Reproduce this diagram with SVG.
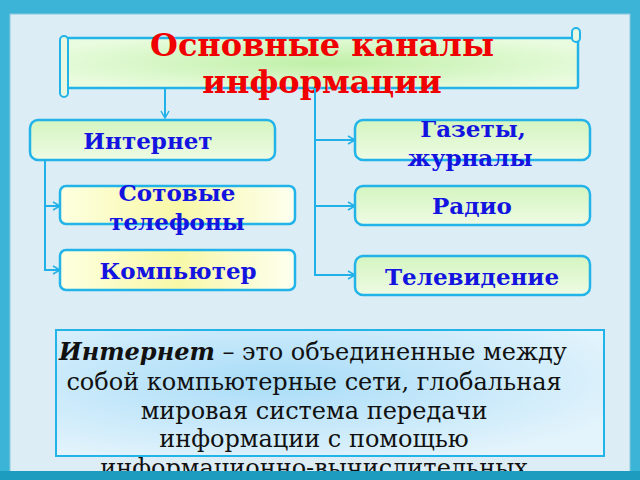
<svg xmlns="http://www.w3.org/2000/svg" width="640" height="480" viewBox="0 0 640 480">
<defs>
<linearGradient id="g" x1="0" y1="0" x2="0" y2="1"><stop offset="0" stop-color="#d4f5c0"/><stop offset="1" stop-color="#eefbe4"/></linearGradient>
<linearGradient id="y" x1="0" y1="0" x2="1" y2="0"><stop offset="0" stop-color="#fdffe0"/><stop offset="0.5" stop-color="#f8f8a8"/><stop offset="1" stop-color="#fdfff0"/></linearGradient>
<radialGradient id="t" cx="0.5" cy="0.5" r="0.6"><stop offset="0" stop-color="#c0f0a8"/><stop offset="1" stop-color="#eafce0"/></radialGradient>
<radialGradient id="b" cx="0.4" cy="0.4" r="0.7"><stop offset="0" stop-color="#a8dcf8"/><stop offset="1" stop-color="#e4f4fc"/></radialGradient>
<marker id="a" markerWidth="10" markerHeight="10" refX="8" refY="5" orient="auto" markerUnits="userSpaceOnUse"><path d="M1,1 L8,5 L1,9" fill="none" stroke="#22b0e8" stroke-width="1.5"/></marker>
</defs>
<style>
.box{stroke:#22b4e8;stroke-width:2.5}
.lbl{font-family:"DejaVu Serif",serif;font-weight:bold;font-size:23px;fill:#1414e0;text-anchor:middle}
.ln{fill:none;stroke:#22b0e8;stroke-width:2}
.body{font-family:"DejaVu Serif",serif;font-size:24px;fill:#111;text-anchor:middle}
</style>
<rect width="640" height="480" fill="#3cb4d8"/>
<rect x="10" y="14" width="620" height="460" fill="#dcedf6" stroke="#8cc8dc" stroke-width="1"/>
<g id="title">
<rect x="66" y="38" width="512" height="50" fill="url(#t)" class="box" stroke-width="2" rx="2"/>
<rect x="60" y="36" width="8" height="61" rx="4" fill="#e8f8e0" stroke="#22b4e8" stroke-width="2"/>
<rect x="572" y="28" width="8" height="14" rx="4" fill="#e8f8e0" stroke="#22b4e8" stroke-width="2"/>
<text font-family="DejaVu Serif,serif" font-weight="bold" font-size="32" fill="#f00000" text-anchor="middle"><tspan x="322" y="56">Основные каналы</tspan><tspan x="322" y="93">информации</tspan></text>
</g>
<g id="connectors">
<path class="ln" d="M165,88 V118" marker-end="url(#a)"/>
<path class="ln" d="M45,160 V270 H60" marker-end="url(#a)"/>
<path class="ln" d="M45,206 H60" marker-end="url(#a)"/>
<path class="ln" d="M315,88 V275 H355" marker-end="url(#a)"/>
<path class="ln" d="M315,140 H355" marker-end="url(#a)"/>
<path class="ln" d="M315,206 H355" marker-end="url(#a)"/>
</g>
<g id="internet"><rect class="box" x="30" y="120" width="245" height="40" rx="8" fill="url(#g)"/><text class="lbl" x="148" y="149">Интернет</text></g>
<g id="cell"><rect class="box" x="60" y="186" width="235" height="38" rx="6" fill="url(#y)"/><text class="lbl"><tspan x="177" y="201">Сотовые</tspan><tspan x="177" y="230">телефоны</tspan></text></g>
<g id="pc"><rect class="box" x="60" y="250" width="235" height="40" rx="6" fill="url(#y)"/><text class="lbl" x="178" y="279">Компьютер</text></g>
<g id="press"><rect class="box" x="355" y="120" width="235" height="40" rx="8" fill="url(#g)"/><text class="lbl"><tspan x="473" y="137">Газеты,</tspan><tspan x="470" y="166">журналы</tspan></text></g>
<g id="radio"><rect class="box" x="355" y="186" width="235" height="39" rx="8" fill="url(#g)"/><text class="lbl" x="472" y="214">Радио</text></g>
<g id="tv"><rect class="box" x="355" y="256" width="235" height="39" rx="8" fill="url(#g)"/><text class="lbl" x="472" y="285">Телевидение</text></g>
<g id="def">
<rect x="56" y="330" width="548" height="126" fill="url(#b)" stroke="#22b4e8" stroke-width="2"/>
<text class="body"><tspan x="313" y="360"><tspan font-weight="bold" font-style="italic">Интернет</tspan> – это объединенные между</tspan><tspan x="314" y="390">собой компьютерные сети, глобальная</tspan><tspan x="314" y="419">мировая система передачи</tspan><tspan x="314" y="447">информации с помощью</tspan><tspan x="314" y="476">информационно-вычислительных</tspan></text>
</g>
<rect x="0" y="471" width="640" height="9" fill="#1e9cc0"/>
</svg>
